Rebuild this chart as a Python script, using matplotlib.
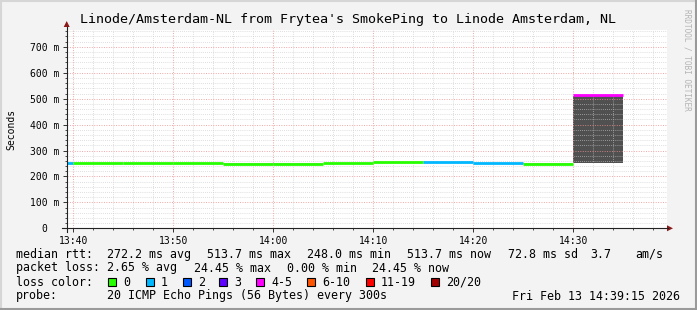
import matplotlib
matplotlib.use("Agg")
import matplotlib.pyplot as plt
from matplotlib.patches import Rectangle, Polygon
from matplotlib.lines import Line2D
from matplotlib.ticker import MultipleLocator, FixedLocator, FixedFormatter

# step ends (each value covers the 5 minutes before it)
slot_end = ["13:40", "13:45", "13:50", "13:55", "14:00", "14:05",
            "14:10", "14:15", "14:20", "14:25", "14:30", "14:35"]
median_ms = [252, 252, 252, 252, 249, 249, 252, 254, 254, 253, 249, 513.7]
lost = [1, 0, 0, 0, 0, 0, 0, 0, 1, 1, 0, 5]
smoke_lo = [252, 252, 252, 252, 249, 249, 252, 254, 254, 253, 249, 252]
smoke_hi = [252, 252, 252, 252, 252, 252, 252, 254, 254, 253, 252, 510]

xtick_labels = ["13:40", "13:50", "14:00", "14:10", "14:20", "14:30"]
ytick_values = [0, 100, 200, 300, 400, 500, 600, 700]
ytick_labels = ["0  ", "100 m", "200 m", "300 m", "400 m", "500 m", "600 m", "700 m"]

loss_names = ["0", "1", "2", "3", "4-5", "6-10", "11-19", "20/20"]
loss_colors = ["#26ff00", "#00b8ff", "#0059ff", "#5e00ff", "#ff00ff", "#ff5500", "#ff0000", "#a10000"]
loss_upper = [0, 1, 2, 3, 5, 10, 19, 20]

title = "Linode/Amsterdam-NL from Frytea's SmokePing to Linode Amsterdam, NL"
rtt_row = [("median rtt:", 16), ("272.2 ms avg", 107.3), ("513.7 ms max", 207.3),
           ("248.0 ms min", 307.3), ("513.7 ms now", 406.7), ("72.8 ms sd", 507.7),
           ("3.7", 590.7), ("am/s", 635)]
loss_row = [("packet loss:", 16), ("2.65 % avg", 107.3), ("24.45 % max", 194),
            ("0.00 % min", 286.7), ("24.45 % now", 372.3)]
box_x = [108.3, 145.7, 182.7, 219.3, 256.3, 307.3, 365.7, 430.7]
probe_text = "20 ICMP Echo Pings (56 Bytes) every 300s"
stamp = "Fri Feb 13 14:39:15 2026"

W, H = 697, 310
MONO = "DejaVu Sans Mono"
LEG = 8.35


def fx(x):
    return x / W


def fy(y):
    return 1 - y / H


def to_min(t):
    h, m = t.split(":")
    return (int(h) - 13) * 60 + int(m) - 40


def loss_color(n):
    for up, c in zip(loss_upper, loss_colors):
        if n <= up:
            return c
    return loss_colors[-1]


fig = plt.figure(figsize=(W / 100, H / 100), dpi=100, facecolor="#f3f3f3")
ax = fig.add_axes([fx(67), fy(228.3), 600 / W, (228.3 - 30) / H])
ax.set_facecolor("white")
ax.set_xlim(-0.63, 59.37)
ax.set_ylim(0, 765)

for t, med, n, lo, hi in zip(slot_end, median_ms, lost, smoke_lo, smoke_hi):
    x1 = to_min(t)
    x0 = x1 - 5
    if hi - lo > 100:
        ax.fill_between([x0, x1], lo, hi, color="#505050", lw=0, zorder=2)
    elif hi > lo:
        ax.fill_between([x0, x1], lo, hi, color="#c4c4c4", lw=0, zorder=2)
    ax.hlines(med, x0, x1, colors=loss_color(n), lw=2.0, zorder=3)

ax.xaxis.set_major_locator(FixedLocator([to_min(t) for t in xtick_labels]))
ax.xaxis.set_major_formatter(FixedFormatter(xtick_labels))
ax.xaxis.set_minor_locator(MultipleLocator(2))
ax.yaxis.set_major_locator(FixedLocator(ytick_values))
ax.yaxis.set_major_formatter(FixedFormatter(ytick_labels))
ax.yaxis.set_minor_locator(MultipleLocator(20))

ax.grid(which="minor", color="#c8c8c8", alpha=0.8, linestyle=(0, (1, 1.5)), lw=0.6, zorder=4)
ax.grid(which="major", color="#eb9090", alpha=0.8, linestyle=(0, (1, 1.5)), lw=0.7, zorder=4)
ax.set_axisbelow(False)

ax.tick_params(which="major", length=3, width=0.7, color="#333333", pad=2.5,
               labelsize=7, labelfontfamily=MONO)
ax.tick_params(which="minor", length=1.5, width=0.6, color="#333333")
for s in ax.spines.values():
    s.set_visible(False)

# axes with arrows
fig.add_artist(Line2D([fx(62), fx(668)], [fy(228.3), fy(228.3)], color="#222222", lw=0.8))
fig.add_artist(Line2D([fx(66.7), fx(66.7)], [fy(232), fy(27)], color="#222222", lw=0.8))
fig.add_artist(Polygon([(fx(667), fy(225.3)), (fx(673), fy(228.3)), (fx(667), fy(231.3))],
                       closed=True, color="#8b1a1a", lw=0))
fig.add_artist(Polygon([(fx(63.7), fy(27)), (fx(66.7), fy(21)), (fx(69.7), fy(27))],
                       closed=True, color="#8b1a1a", lw=0))

fig.text(fx(348), fy(19.3), title, family=MONO, fontsize=9.6, ha="center", va="center")
fig.text(fx(11), fy(129), "Seconds", family=MONO, fontsize=7, rotation=90,
         ha="center", va="center")
fig.text(fx(687.5), fy(60), "RRDTOOL / TOBI OETIKER", family=MONO, fontsize=5.6,
         rotation=-90, ha="center", va="center", color="#b4b4b4")

rows_y = [254.3, 268.0, 282.3, 296.0]
for txt, x in rtt_row:
    fig.text(fx(x), fy(rows_y[0]), txt, family=MONO, fontsize=LEG, va="center")
for txt, x in loss_row:
    fig.text(fx(x), fy(rows_y[1]), txt, family=MONO, fontsize=LEG, va="center")
fig.text(fx(16), fy(rows_y[2]), "loss color:", family=MONO, fontsize=LEG, va="center")
for name, c, bx in zip(loss_names, loss_colors, box_x):
    fig.add_artist(Rectangle((fx(bx), fy(rows_y[2] + 4)), 8 / W, 8 / H,
                             facecolor=c, edgecolor="black", lw=0.8))
    fig.text(fx(bx + 15), fy(rows_y[2]), name, family=MONO, fontsize=LEG, va="center")
fig.text(fx(16), fy(rows_y[3]), "probe:", family=MONO, fontsize=LEG, va="center")
fig.text(fx(107.3), fy(rows_y[3]), probe_text, family=MONO, fontsize=LEG, va="center")
fig.text(fx(680), fy(rows_y[3]), stamp, family=MONO, fontsize=LEG, va="center", ha="right")

# 3d frame
fig.add_artist(Line2D([0, 1], [fy(0.5), fy(0.5)], color="#d6d6d6", lw=1.5))
fig.add_artist(Line2D([fx(0.5), fx(0.5)], [0, 1], color="#d6d6d6", lw=1.5))
fig.add_artist(Line2D([0, 1], [fy(309), fy(309)], color="#9a9a9a", lw=1.5))
fig.add_artist(Line2D([fx(696), fx(696)], [0, 1], color="#9a9a9a", lw=1.5))

fig.savefig("out.png", dpi=100, facecolor=fig.get_facecolor())
